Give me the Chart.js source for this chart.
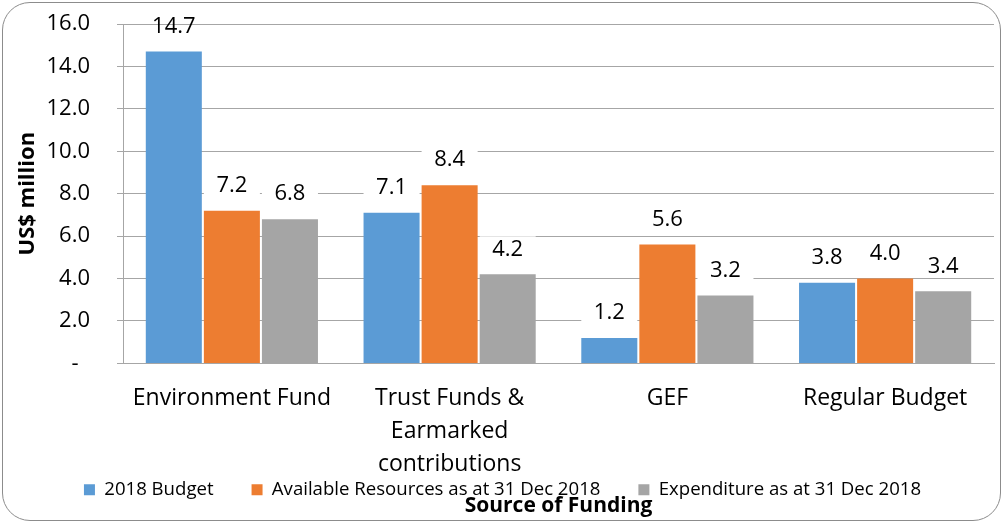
<!DOCTYPE html>
<html>
<head>
<meta charset="utf-8">
<script src="https://cdn.jsdelivr.net/npm/chart.js@4/dist/chart.umd.min.js"></script>
<style>
  html, body { margin: 0; padding: 0; background: #fff; }
  #wrap { position: relative; width: 1004px; height: 525px; }
  #frame {
    position: absolute; left: 2px; top: 2px; width: 997px; height: 517px;
    border: 1.5px solid #8c8c8c; border-radius: 28px; pointer-events: none;
  }
</style>
</head>
<body>
<div id="wrap">
  <canvas id="chart" width="1004" height="525"></canvas>
  <div id="frame"></div>
</div>
<script>
const fontFamily = '"Open Sans", sans-serif';
const textColor = "#000";
const gridColor = "#a6a6a6";

const categories = ["Environment Fund", ["Trust Funds &", "Earmarked", "contributions"], "GEF", "Regular Budget"];
const seriesNames = ["2018 Budget", "Available Resources as at 31 Dec 2018", "Expenditure as at 31 Dec 2018"];
const budget2018 = [14.7, 7.1, 1.2, 3.8];
const availableResources = [7.2, 8.4, 5.6, 4.0];
const expenditure = [6.8, 4.2, 3.2, 3.4];
const seriesColors = ["#5b9bd5", "#ed7d31", "#a5a5a5"];
const yMin = 0;
const yMax = 16;
const yStep = 2;

// value labels above each bar, on a white box like the original
const barLabels = {
    id: "barLabels",
    afterDatasetsDraw(chart) {
        const { ctx, chartArea } = chart;
        ctx.save();
        ctx.font = `22px ${fontFamily}`;
        ctx.textAlign = "center";
        ctx.textBaseline = "middle";
        chart.data.datasets.forEach((ds, i) => {
            chart.getDatasetMeta(i).data.forEach((bar, j) => {
                const cy = bar.y - 26;
                const w = bar.width;
                const top = Math.max(cy - 12, chartArea.top + 1);
                ctx.fillStyle = "#fff";
                ctx.fillRect(bar.x - w / 2, top, w, cy + 11 - top);
                ctx.fillStyle = textColor;
                ctx.fillText(ds.data[j].toFixed(1), bar.x, cy + 1);
            });
        });
        ctx.restore();
    }
};

const datasets = [budget2018, availableResources, expenditure].map((values, i) => ({
    label: seriesNames[i],
    data: values,
    backgroundColor: seriesColors[i],
    borderWidth: 0,
    categoryPercentage: 0.8,
    barPercentage: 0.965
}));

new Chart(document.getElementById("chart"), {
    type: "bar",
    data: { labels: categories, datasets },
    plugins: [barLabels],
    options: {
        responsive: false,
        devicePixelRatio: 1,
        animation: false,
        layout: { padding: { left: 11, right: 10, top: 24, bottom: 16 } },
        plugins: {
            tooltip: { enabled: false },
            legend: {
                position: "bottom",
                labels: {
                    boxWidth: 11,
                    boxHeight: 11,
                    padding: 38,
                    color: textColor,
                    font: { family: fontFamily, size: 18.6 }
                }
            }
        },
        scales: {
            x: {
                grid: { display: false, drawTicks: false },
                border: { color: gridColor },
                ticks: {
                    padding: 18,
                    autoSkip: false,
                    maxRotation: 0,
                    color: textColor,
                    font: { family: fontFamily, size: 23, lineHeight: 1.45 }
                },
                title: {
                    display: true,
                    text: "Source of Funding",
                    color: textColor,
                    font: { family: fontFamily, size: 21, weight: "bold" },
                    padding: { top: 0, bottom: -76 }
                },
                // the legend overlaps the wrapped category labels, as in the original
                afterFit: s => {
                    s.height = 79;
                    s._computeLabelArea = () => undefined;
                }
            },
            y: {
                min: yMin,
                max: yMax,
                grid: { color: gridColor, tickLength: 6 },
                border: { color: gridColor },
                ticks: {
                    stepSize: yStep,
                    padding: 27,
                    color: textColor,
                    font: { family: fontFamily, size: 22 },
                    callback: v => v === 0 ? "-  " : v.toFixed(1)
                },
                title: {
                    display: true,
                    text: "US$ million",
                    color: textColor,
                    font: { family: fontFamily, size: 22, weight: "bold" },
                    padding: { top: 4, bottom: 4 }
                },
                afterFit: s => {
                    s.width = 112;
                    s.paddingTop = 0;
                    s.paddingBottom = 0;
                }
            }
        }
    }
});
</script>
</body>
</html>
